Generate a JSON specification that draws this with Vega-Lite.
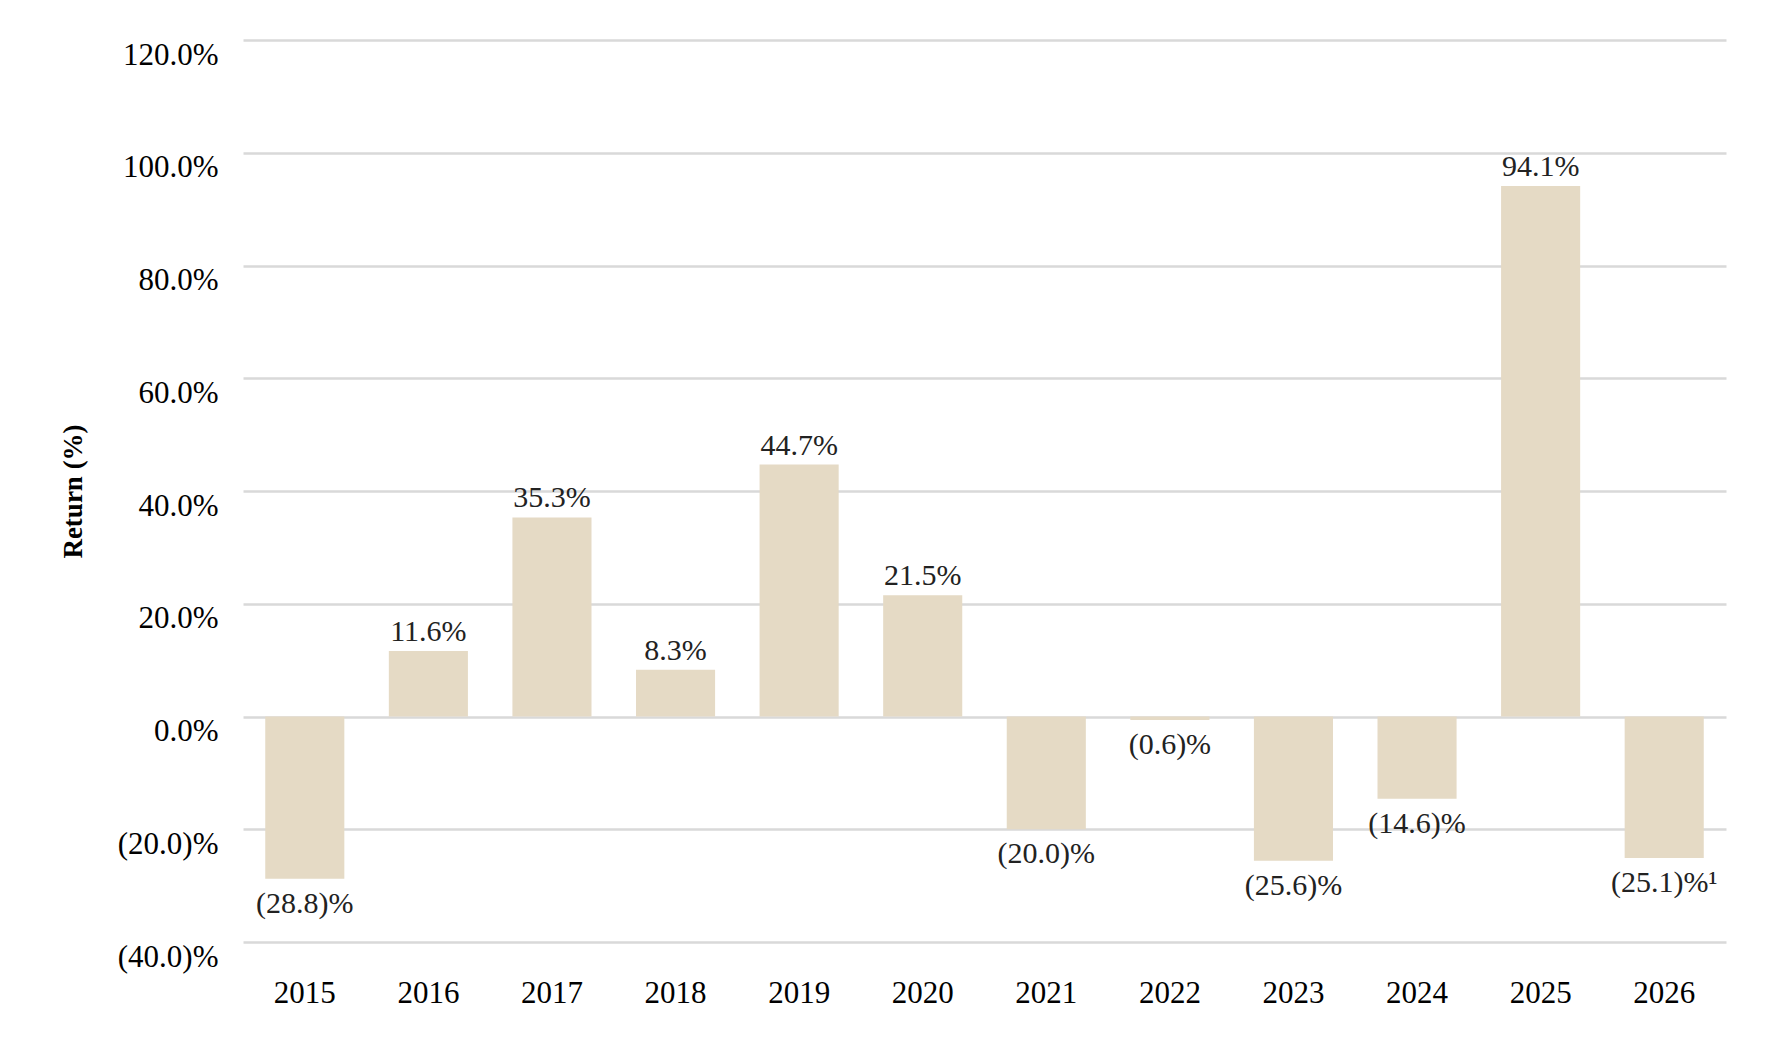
{
  "$schema": "https://vega.github.io/schema/vega-lite/v6.json",
  "autosize": "none",
  "width": 1483,
  "height": 902,
  "padding": {"left": 243, "top": 40, "right": 49, "bottom": 95},
  "background": "white",
  "config": {
    "font": "Liberation Serif",
    "view": {"stroke": null}
  },
  "data": {
    "values": [
      {"year": "2015", "ret": -28.8, "label": "(28.8)%"},
      {"year": "2016", "ret": 11.6, "label": "11.6%"},
      {"year": "2017", "ret": 35.3, "label": "35.3%"},
      {"year": "2018", "ret": 8.3, "label": "8.3%"},
      {"year": "2019", "ret": 44.7, "label": "44.7%"},
      {"year": "2020", "ret": 21.5, "label": "21.5%"},
      {"year": "2021", "ret": -20.0, "label": "(20.0)%"},
      {"year": "2022", "ret": -0.6, "label": "(0.6)%"},
      {"year": "2023", "ret": -25.6, "label": "(25.6)%"},
      {"year": "2024", "ret": -14.6, "label": "(14.6)%"},
      {"year": "2025", "ret": 94.1, "label": "94.1%"},
      {"year": "2026", "ret": -25.1, "label": "(25.1)%¹"}
    ]
  },
  "encoding": {
    "x": {
      "field": "year", "type": "nominal", "sort": null,
      "scale": {"paddingInner": 0.36, "paddingOuter": 0.18},
      "axis": {"title": null, "labelAngle": 0, "labelFontSize": 31, "labelColor": "#000", "domain": false, "ticks": false, "labelPadding": 36}
    },
    "y": {
      "field": "ret", "type": "quantitative",
      "scale": {"domain": [-40, 120], "nice": false},
      "axis": {
        "title": "Return (%)", "titleFontSize": 27, "titleFontWeight": "bold", "titleColor": "#000", "titlePadding": 30,
        "values": [-40, -20, 0, 20, 40, 60, 80, 100, 120],
        "labelExpr": "datum.value < 0 ? '(' + format(-datum.value, '.1f') + ')%' : format(datum.value, '.1f') + '%'",
        "labelFontSize": 31, "labelColor": "#000", "labelPadding": 25, "labelBaseline": "top",
        "domain": false, "ticks": false,
        "grid": true, "gridColor": "#d9d9d9", "gridWidth": 2.5
      }
    }
  },
  "layer": [
    {"mark": {"type": "bar", "color": "#e5dac5"}},
    {
      "transform": [{"filter": "datum.ret >= 0"}],
      "mark": {"type": "text", "baseline": "bottom", "dy": -4, "fontSize": 30, "color": "#222"},
      "encoding": {"text": {"field": "label"}}
    },
    {
      "transform": [{"filter": "datum.ret < 0"}],
      "mark": {"type": "text", "baseline": "top", "dy": 10, "fontSize": 30, "color": "#222"},
      "encoding": {"text": {"field": "label"}}
    }
  ]
}
